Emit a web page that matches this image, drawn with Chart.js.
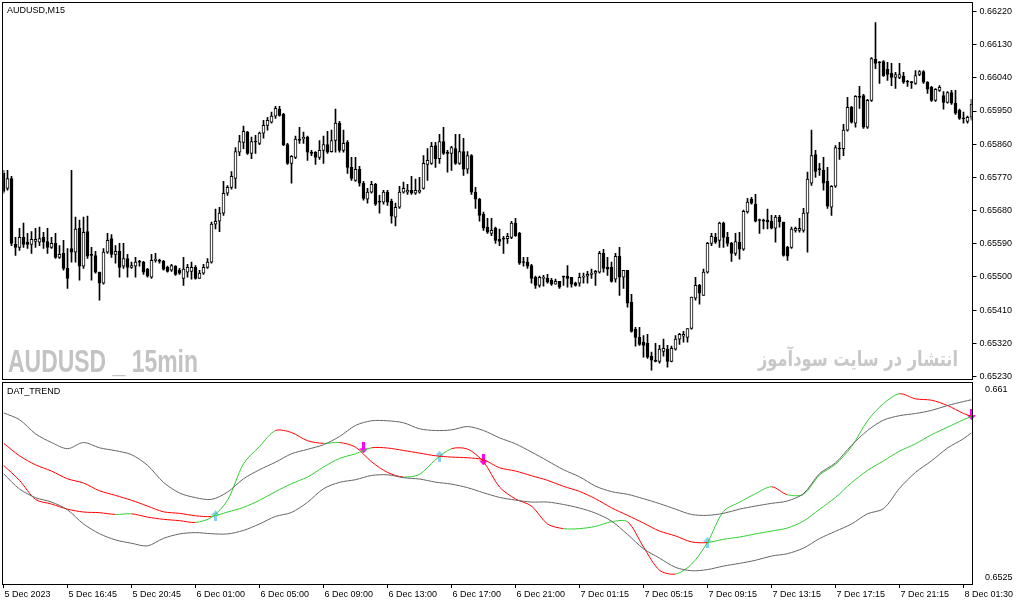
<!DOCTYPE html>
<html>
<head>
<meta charset="utf-8">
<title>AUDUSD M15 - DAT_TREND</title>
<script src="https://cdn.jsdelivr.net/npm/chart.js@4.4.0/dist/chart.umd.min.js"></script>
<style>
  html, body { margin: 0; padding: 0; background: #fff; }
  #wrap { position: relative; width: 1019px; height: 605px; overflow: hidden; }
  #priceChart { position: absolute; left: 0; top: 0; }
  #indChart { position: absolute; left: 0; top: 381px; }
</style>
</head>
<body>
<div id="wrap">
  <canvas id="priceChart" width="1019" height="381"></canvas>
  <canvas id="indChart" width="1019" height="224"></canvas>
</div>
<script>
// prices are in points (price x 100000), one entry per M15 bar
const openPts = [65781, 65740, 65767, 65588, 65580, 65607, 65594, 65588, 65596, 65594,
  65607, 65596, 65580, 65591, 65553, 65564, 65523, 65577, 65567, 65632,
  65529, 65623, 65561, 65558, 65513, 65483, 65567, 65604, 65561, 65569,
  65529, 65550, 65526, 65529, 65540, 65540, 65521, 65499, 65545, 65545,
  65542, 65526, 65518, 65529, 65518, 65496, 65513, 65515, 65526, 65496,
  65510, 65526, 65540, 65643, 65651, 65673, 65727, 65743, 65767, 65838,
  65865, 65893, 65835, 65867, 65862, 65890, 65911, 65920, 65936, 65955,
  65941, 65859, 65808, 65824, 65874, 65874, 65879, 65838, 65838, 65824,
  65843, 65859, 65840, 65870, 65917, 65843, 65865, 65797, 65762, 65792,
  65754, 65711, 65730, 65751, 65705, 65703, 65730, 65705, 65662, 65689,
  65730, 65730, 65735, 65727, 65730, 65740, 65805, 65808, 65856, 65821,
  65867, 65838, 65835, 65848, 65808, 65840, 65792, 65829, 65730, 65711,
  65670, 65635, 65618, 65632, 65602, 65604, 65604, 65607, 65646, 65618,
  65540, 65540, 65531, 65499, 65477, 65496, 65496, 65491, 65480, 65488,
  65502, 65502, 65499, 65483, 65483, 65499, 65502, 65507, 65510, 65513,
  65564, 65526, 65526, 65494, 65556, 65499, 65518, 65432, 65358, 65336,
  65323, 65320, 65285, 65271, 65271, 65298, 65304, 65271, 65304, 65331,
  65339, 65336, 65360, 65442, 65477, 65450, 65513, 65591, 65607, 65599,
  65646, 65607, 65591, 65564, 65594, 65575, 65676, 65711, 65697, 65654,
  65654, 65654, 65651, 65632, 65662, 65649, 65580, 65580, 65626, 65626,
  65626, 65673, 65754, 65832, 65792, 65789, 65759, 65689, 65746, 65848,
  65848, 65898, 65960, 65917, 65990, 65992, 65906, 65979, 66090, 66082,
  66084, 66063, 66052, 66041, 66041, 66044, 66030, 66028, 66025, 66049,
  66057, 66028, 66014, 65979, 66006, 65992, 65973, 66000, 65971, 65952,
  65930, 65922, 65933];

const highPts = [65789, 65789, 65773, 65607, 65632, 65646, 65618, 65623, 65632, 65635,
  65621, 65632, 65607, 65618, 65585, 65599, 65577, 65789, 65662, 65654,
  65662, 65665, 65580, 65569, 65513, 65577, 65618, 65615, 65585, 65591,
  65591, 65561, 65540, 65553, 65545, 65542, 65523, 65561, 65564, 65548,
  65545, 65529, 65534, 65531, 65523, 65553, 65534, 65540, 65531, 65518,
  65534, 65550, 65649, 65684, 65689, 65759, 65748, 65786, 65851, 65884,
  65909, 65895, 65879, 65884, 65893, 65925, 65933, 65947, 65963, 65963,
  65944, 65862, 65829, 65882, 65906, 65893, 65882, 65843, 65840, 65870,
  65882, 65895, 65898, 65955, 65922, 65898, 65870, 65824, 65824, 65800,
  65759, 65740, 65759, 65754, 65721, 65735, 65735, 65711, 65700, 65746,
  65757, 65751, 65773, 65765, 65770, 65829, 65848, 65865, 65865, 65887,
  65906, 65843, 65854, 65887, 65887, 65876, 65840, 65832, 65743, 65713,
  65676, 65659, 65659, 65635, 65630, 65610, 65618, 65651, 65659, 65621,
  65553, 65553, 65534, 65502, 65502, 65504, 65507, 65496, 65494, 65488,
  65502, 65531, 65499, 65486, 65510, 65510, 65515, 65521, 65518, 65569,
  65575, 65553, 65540, 65564, 65580, 65518, 65518, 65453, 65363, 65363,
  65341, 65344, 65296, 65320, 65314, 65331, 65314, 65312, 65341, 65347,
  65352, 65360, 65445, 65499, 65480, 65521, 65594, 65618, 65618, 65649,
  65649, 65621, 65594, 65618, 65621, 65681, 65713, 65716, 65724, 65657,
  65657, 65684, 65667, 65667, 65667, 65649, 65583, 65635, 65635, 65659,
  65686, 65784, 65898, 65843, 65808, 65824, 65797, 65748, 65856, 65865,
  65914, 65987, 65963, 65992, 66017, 65995, 65982, 66095, 66190, 66084,
  66087, 66082, 66079, 66055, 66079, 66055, 66033, 66030, 66060, 66060,
  66060, 66030, 66017, 66011, 66019, 66003, 66003, 66006, 66006, 65955,
  65947, 65936, 65982];

const lowPts = [65727, 65735, 65585, 65558, 65572, 65580, 65577, 65564, 65580, 65585,
  65577, 65564, 65577, 65550, 65550, 65518, 65469, 65540, 65540, 65491,
  65523, 65550, 65491, 65510, 65437, 65480, 65564, 65553, 65537, 65499,
  65523, 65499, 65523, 65499, 65529, 65507, 65499, 65496, 65540, 65537,
  65518, 65513, 65515, 65504, 65507, 65477, 65499, 65494, 65494, 65496,
  65507, 65523, 65537, 65630, 65623, 65667, 65721, 65738, 65740, 65829,
  65848, 65832, 65821, 65835, 65859, 65876, 65898, 65917, 65930, 65936,
  65856, 65805, 65754, 65821, 65862, 65862, 65816, 65829, 65805, 65819,
  65808, 65835, 65838, 65838, 65838, 65838, 65781, 65762, 65759, 65746,
  65708, 65700, 65727, 65694, 65673, 65697, 65694, 65646, 65638, 65686,
  65727, 65724, 65724, 65724, 65727, 65738, 65762, 65805, 65797, 65808,
  65832, 65784, 65789, 65805, 65805, 65775, 65781, 65724, 65686, 65651,
  65626, 65618, 65612, 65591, 65585, 65564, 65591, 65604, 65610, 65534,
  65529, 65523, 65483, 65469, 65472, 65475, 65483, 65477, 65480, 65469,
  65477, 65472, 65472, 65475, 65475, 65483, 65483, 65496, 65477, 65510,
  65513, 65504, 65486, 65486, 65450, 65469, 65418, 65350, 65312, 65314,
  65282, 65279, 65247, 65269, 65266, 65285, 65255, 65269, 65301, 65317,
  65323, 65323, 65358, 65437, 65426, 65450, 65510, 65585, 65591, 65580,
  65580, 65583, 65542, 65558, 65548, 65572, 65673, 65697, 65649, 65618,
  65630, 65630, 65630, 65594, 65635, 65556, 65545, 65577, 65621, 65621,
  65621, 65567, 65748, 65770, 65775, 65735, 65686, 65667, 65743, 65819,
  65829, 65895, 65917, 65906, 65957, 65903, 65903, 65976, 66065, 66025,
  66044, 66033, 66019, 66011, 66038, 66025, 66017, 66011, 66022, 66046,
  66025, 65998, 65976, 65976, 66003, 65955, 65971, 65968, 65941, 65927,
  65917, 65917, 65925];

const closePts = [65732, 65767, 65591, 65580, 65607, 65588, 65588, 65602, 65602, 65604,
  65594, 65580, 65591, 65553, 65561, 65523, 65496, 65567, 65630, 65529,
  65621, 65556, 65558, 65513, 65483, 65567, 65599, 65561, 65569, 65526,
  65550, 65526, 65531, 65540, 65541, 65513, 65502, 65545, 65548, 65542,
  65521, 65515, 65531, 65507, 65510, 65521, 65526, 65526, 65496, 65510,
  65526, 65540, 65643, 65651, 65673, 65727, 65743, 65773, 65840, 65867,
  65895, 65835, 65867, 65866, 65890, 65911, 65925, 65936, 65957, 65938,
  65859, 65808, 65827, 65874, 65870, 65879, 65838, 65835, 65824, 65843,
  65859, 65838, 65870, 65917, 65843, 65862, 65797, 65767, 65792, 65754,
  65713, 65730, 65751, 65697, 65703, 65730, 65703, 65665, 65689, 65730,
  65740, 65735, 65727, 65735, 65735, 65808, 65816, 65854, 65821, 65867,
  65835, 65835, 65851, 65808, 65840, 65792, 65829, 65730, 65711, 65667,
  65632, 65621, 65626, 65599, 65596, 65602, 65610, 65646, 65612, 65537,
  65539, 65529, 65496, 65477, 65499, 65499, 65486, 65480, 65488, 65472,
  65499, 65496, 65480, 65477, 65499, 65502, 65507, 65510, 65515, 65564,
  65523, 65521, 65488, 65556, 65499, 65518, 65429, 65352, 65336, 65317,
  65314, 65282, 65274, 65272, 65304, 65306, 65271, 65306, 65331, 65344,
  65344, 65360, 65445, 65477, 65456, 65513, 65591, 65610, 65594, 65646,
  65607, 65591, 65564, 65596, 65575, 65678, 65703, 65700, 65651, 65653,
  65651, 65649, 65632, 65662, 65649, 65558, 65556, 65630, 65632, 65632,
  65673, 65765, 65829, 65786, 65791, 65754, 65692, 65746, 65851, 65847,
  65898, 65960, 65920, 65990, 65987, 65906, 65979, 66092, 66079, 66081,
  66046, 66049, 66041, 66049, 66049, 66028, 66028, 66027, 66046, 66057,
  66028, 66009, 65979, 66009, 66014, 65973, 66000, 65971, 65944, 65930,
  65929, 65933, 65968];

const priceTicks = [0.66220, 0.66130, 0.66040, 0.65950, 0.65860, 0.65770,
  0.65680, 0.65590, 0.65500, 0.65410, 0.65320, 0.65230];

// time axis: one label every 16 bars
const timeTickIdx = [0, 16, 32, 48, 64, 80, 96, 112, 128, 144, 160, 176, 192, 208, 224, 240];
const timeLabels = ['5 Dec 2023', '5 Dec 16:45', '5 Dec 20:45', '6 Dec 01:00', '6 Dec 05:00',
  '6 Dec 09:00', '6 Dec 13:00', '6 Dec 17:00', '6 Dec 21:00', '7 Dec 01:15', '7 Dec 05:15',
  '7 Dec 09:15', '7 Dec 13:15', '7 Dec 17:15', '7 Dec 21:15', '8 Dec 01:30'];

// DAT_TREND indicator, read every 4th bar (points)
const indIdx = [0, 4, 8, 12, 16, 20, 24, 28, 32, 36,
  40, 44, 48, 52, 56, 60, 64, 68, 72, 76,
  80, 84, 88, 92, 96, 100, 104, 108, 112, 116,
  120, 124, 128, 132, 136, 140, 144, 148, 152, 156,
  160, 164, 168, 172, 176, 180, 184, 188, 192, 196,
  200, 204, 208, 212, 216, 220, 224, 228, 232, 236,
  240, 242];

const upperBand = [65996, 65965, 65901, 65862, 65834, 65862, 65838, 65825, 65807, 65759,
  65682, 65634, 65613, 65605, 65638, 65698, 65739, 65773, 65811, 65831,
  65852, 65889, 65939, 65960, 65960, 65951, 65924, 65916, 65919, 65934,
  65916, 65883, 65856, 65819, 65779, 65739, 65707, 65665, 65640, 65628,
  65608, 65586, 65561, 65537, 65533, 65542, 65561, 65575, 65587, 65598,
  65631, 65721, 65770, 65849, 65916, 65963, 65983, 65993, 66007, 66029,
  66047, 66055];

const lowerBand = [65721, 65652, 65613, 65593, 65558, 65494, 65450, 65422, 65407, 65395,
  65429, 65449, 65455, 65450, 65449, 65465, 65494, 65528, 65546, 65592,
  65653, 65682, 65694, 65713, 65716, 65703, 65697, 65683, 65674, 65658,
  65635, 65614, 65602, 65593, 65593, 65582, 65566, 65543, 65507, 65447,
  65382, 65340, 65298, 65283, 65288, 65304, 65316, 65330, 65349, 65360,
  65385, 65428, 65461, 65494, 65540, 65563, 65655, 65727, 65779, 65837,
  65879, 65906];

const slowLine = [65859, 65802, 65761, 65733, 65698, 65679, 65644, 65623, 65601, 65575,
  65549, 65542, 65531, 65528, 65548, 65569, 65601, 65640, 65676, 65706,
  65751, 65790, 65811, 65838, 65837, 65826, 65814, 65802, 65796, 65793,
  65784, 65748, 65733, 65712, 65691, 65664, 65641, 65608, 65567, 65533,
  65498, 65462, 65440, 65413, 65410, 65425, 65435, 65449, 65462, 65476,
  65507, 65560, 65614, 65680, 65736, 65779, 65823, 65856, 65897, 65931,
  65965, 65980];

const fastLine = [65759, 65691, 65605, 65584, 65561, 65548, 65545, 65537, 65540, 65525,
  65515, 65509, 65501, 65524, 65601, 65766, 65844, 65916, 65907, 65870,
  65858, 65862, 65841, 65775, 65727, 65706, 65718, 65784, 65834, 65832,
  65775, 65661, 65607, 65575, 65494, 65473, 65473, 65483, 65504, 65504,
  65390, 65285, 65268, 65312, 65411, 65551, 65592, 65631, 65662, 65626,
  65628, 65715, 65764, 65843, 65960, 66038, 66082, 66059, 66053, 66029,
  65993, 65980];

// cross signals
const upArrowIdx = [53, 109, 176];
const upArrowVal = [65531, 65800, 65411];
const downArrowIdx = [90, 120, 242];
const downArrowVal = [65838, 65783, 65988];

const indTickVals = [0.661, 0.6525];
const indTickLabels = ['0.661', '0.6525'];

const FONT = "'Liberation Sans', Arial, sans-serif";
const GREEN = '#32cd32';
const RED = '#ff0000';
const GRAY = '#666666';

const toPrice = v => v / 100000;

// frame around each window, like the terminal draws it
const framePlugin = {
  id: 'frame',
  afterDraw(chart) {
    const { ctx, chartArea: a } = chart;
    ctx.save();
    ctx.strokeStyle = '#000';
    ctx.lineWidth = 1;
    ctx.strokeRect(a.left - 1, a.top - 0.5, a.right - a.left + 2, a.bottom - a.top + 1);
    ctx.restore();
  }
};

const priceTextPlugin = {
  id: 'priceText',
  beforeDatasetsDraw(chart) {
    const ctx = chart.ctx;
    ctx.save();
    ctx.fillStyle = '#000';
    ctx.font = `9px ${FONT}`;
    ctx.textBaseline = 'middle';
    ctx.fillText('AUDUSD,M15', 7, 11);

    // watermark, left
    ctx.fillStyle = '#c3c3c3';
    ctx.font = `bold 32px ${FONT}`;
    ctx.textBaseline = 'alphabetic';
    const wm = 'AUDUSD _ 15min';
    const w = ctx.measureText(wm).width;
    ctx.translate(8, 372);
    ctx.scale(190 / w, 1);
    ctx.fillText(wm, 0, 0);
    ctx.restore();

    // watermark, right (squeezed to the same width as in the terminal)
    ctx.save();
    ctx.fillStyle = '#c8c8c8';
    ctx.font = "bold 21px 'DejaVu Sans', sans-serif";
    ctx.textAlign = 'right';
    ctx.direction = 'rtl';
    const fa = 'انتشار در سایت سودآموز';
    const fw = ctx.measureText(fa).width;
    ctx.translate(958, 366);
    ctx.scale(200 / fw, 1);
    ctx.fillText(fa, 0, 0);
    ctx.restore();
  }
};

const indTextPlugin = {
  id: 'indText',
  beforeDatasetsDraw(chart) {
    const ctx = chart.ctx;
    ctx.save();
    ctx.fillStyle = '#000';
    ctx.font = `9px ${FONT}`;
    ctx.textBaseline = 'middle';
    ctx.fillText('DAT_TREND', 7, 11);
    ctx.restore();
  }
};

// candles: body as floating bar, wick as 1px floating bar
const barLabels = closePts.map((_, i) => i);
const bodies = closePts.map((c, i) => [toPrice(Math.min(openPts[i], c)), toPrice(Math.max(openPts[i], c))]);
const wicks = highPts.map((h, i) => [toPrice(lowPts[i]), toPrice(h)]);
const bodyColors = closePts.map((c, i) => (c - openPts[i] >= 3 ? '#ffffff' : '#000000'));

new Chart(document.getElementById('priceChart'), {
  type: 'bar',
  data: {
    labels: barLabels,
    datasets: [
      {
        label: 'body',
        data: bodies,
        backgroundColor: bodyColors,
        borderColor: '#000',
        borderWidth: 1,
        borderSkipped: false,
        barThickness: 3,
        minBarLength: 1,
        grouped: false,
        order: 0
      },
      {
        label: 'wick',
        data: wicks,
        backgroundColor: '#000',
        borderWidth: 0,
        barThickness: 1,
        grouped: false,
        order: 1
      }
    ]
  },
  options: {
    responsive: false,
    animation: false,
    events: [],
    layout: { padding: { left: 3.5, right: 0, top: 3, bottom: 2 }, autoPadding: false },
    plugins: { legend: { display: false }, tooltip: { enabled: false } },
    scales: {
      x: { type: 'category', offset: false, display: false },
      y: {
        position: 'right',
        min: 0.65223,
        max: 0.66243,
        afterBuildTicks: s => { s.ticks = priceTicks.map(v => ({ value: v })); },
        afterFit: s => { s.width = 47.5; s.paddingTop = 0; s.paddingBottom = 0; },
        grid: { drawOnChartArea: false, drawTicks: true, tickLength: 5, color: '#000' },
        border: { display: false },
        ticks: {
          padding: 3,
          color: '#000',
          font: { family: FONT, size: 9 },
          callback: v => v.toFixed(5)
        }
      }
    }
  },
  plugins: [framePlugin, priceTextPlugin]
});

// arrow glyphs for the cross signals
function makeArrow(color, up) {
  const c = document.createElement('canvas');
  c.width = 9;
  c.height = 11;
  const g = c.getContext('2d');
  g.fillStyle = color;
  g.beginPath();
  if (up) {
    g.moveTo(4.5, 0); g.lineTo(9, 5); g.lineTo(6, 5); g.lineTo(6, 11);
    g.lineTo(3, 11); g.lineTo(3, 5); g.lineTo(0, 5);
  } else {
    g.moveTo(4.5, 11); g.lineTo(9, 6); g.lineTo(6, 6); g.lineTo(6, 0);
    g.lineTo(3, 0); g.lineTo(3, 6); g.lineTo(0, 6);
  }
  g.closePath();
  g.fill();
  return c;
}

const series = arr => arr.map((v, k) => ({ x: indIdx[k], y: toPrice(v) }));
const trendColor = ctx => (ctx.p1.parsed.y >= ctx.p0.parsed.y ? GREEN : RED);

new Chart(document.getElementById('indChart'), {
  type: 'line',
  data: {
    datasets: [
      { label: 'upper', data: series(upperBand), borderColor: GRAY, borderWidth: 1, pointRadius: 0, tension: 0.3 },
      { label: 'lower', data: series(lowerBand), borderColor: GRAY, borderWidth: 1, pointRadius: 0, tension: 0.3 },
      { label: 'slow', data: series(slowLine), borderColor: RED, borderWidth: 1, pointRadius: 0, tension: 0.3,
        segment: { borderColor: trendColor } },
      { label: 'fast', data: series(fastLine), borderColor: RED, borderWidth: 1, pointRadius: 0, tension: 0.3,
        segment: { borderColor: trendColor } },
      { label: 'buy', data: upArrowIdx.map((x, k) => ({ x, y: toPrice(upArrowVal[k]) })),
        showLine: false, pointStyle: makeArrow('#87cefa', true), pointRadius: 5, clip: false },
      { label: 'sell', data: downArrowIdx.map((x, k) => ({ x, y: toPrice(downArrowVal[k]) })),
        showLine: false, pointStyle: makeArrow('#ff00ff', false), pointRadius: 5, clip: false }
    ]
  },
  options: {
    responsive: false,
    animation: false,
    events: [],
    layout: { padding: { left: 3.5, right: 0, top: 2, bottom: 0 }, autoPadding: false },
    plugins: { legend: { display: false }, tooltip: { enabled: false } },
    scales: {
      x: {
        type: 'linear',
        min: 0,
        max: 242,
        afterBuildTicks: s => { s.ticks = timeTickIdx.map(v => ({ value: v })); },
        afterFit: s => { s.height = 21; s.paddingLeft = 0; s.paddingRight = 0; },
        grid: { drawOnChartArea: false, drawTicks: true, tickLength: 4, color: '#000' },
        border: { display: false },
        ticks: {
          autoSkip: false,
          maxRotation: 0,
          minRotation: 0,
          align: 'start',
          padding: 1,
          labelOffset: 1,
          color: '#000',
          font: { family: FONT, size: 9 },
          callback: (v, k) => timeLabels[k]
        }
      },
      y: {
        position: 'right',
        min: 0.652229,
        max: 0.661307,
        afterBuildTicks: s => { s.ticks = indTickVals.map(v => ({ value: v })); },
        afterFit: s => { s.width = 47.5; s.paddingTop = 0; s.paddingBottom = 0; },
        grid: { display: false },
        border: { display: false },
        ticks: {
          padding: 5.5,
          color: '#000',
          font: { family: FONT, size: 9 },
          callback: (v, k) => indTickLabels[k]
        }
      }
    }
  },
  plugins: [framePlugin, indTextPlugin]
});
</script>
</body>
</html>
